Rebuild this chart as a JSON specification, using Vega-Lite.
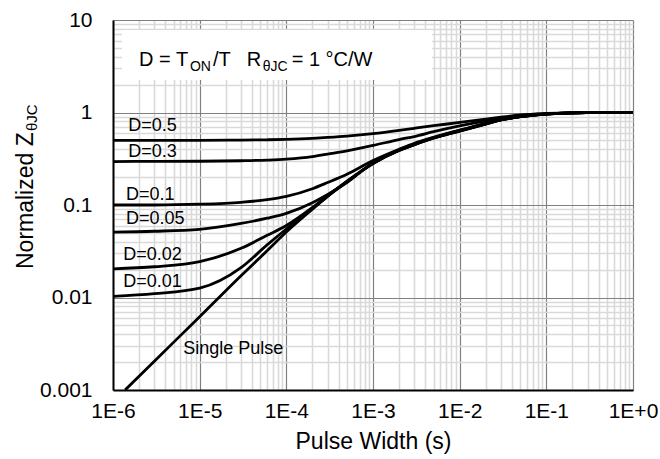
{
  "$schema": "https://vega.github.io/schema/vega-lite/v6.json",
  "width": 520,
  "height": 370,
  "autosize": {"type": "none"},
  "padding": {"left": 113, "top": 20, "right": 27, "bottom": 69},
  "background": "white",
  "config": {"view": {"stroke": null}, "font": "Liberation Sans"},
  "datasets": {
    "box": [{"x1": 1.27e-6, "x2": 4.8e-3, "y1": 2.245, "y2": 7.797}],
    "curves": [
      {"series": "D=0.5", "t": 1e-6, "z": 0.5}, {"series": "D=0.5", "t": 3e-6, "z": 0.5}, {"series": "D=0.5", "t": 1e-5, "z": 0.5}, {"series": "D=0.5", "t": 3e-5, "z": 0.503}, {"series": "D=0.5", "t": 6e-5, "z": 0.507}, {"series": "D=0.5", "t": 1e-4, "z": 0.512}, {"series": "D=0.5", "t": 2e-4, "z": 0.525}, {"series": "D=0.5", "t": 3e-4, "z": 0.537}, {"series": "D=0.5", "t": 5e-4, "z": 0.555}, {"series": "D=0.5", "t": 1e-3, "z": 0.59}, {"series": "D=0.5", "t": 2e-3, "z": 0.64}, {"series": "D=0.5", "t": 3e-3, "z": 0.675}, {"series": "D=0.5", "t": 5e-3, "z": 0.72}, {"series": "D=0.5", "t": 1e-2, "z": 0.78}, {"series": "D=0.5", "t": 2e-2, "z": 0.85}, {"series": "D=0.5", "t": 3e-2, "z": 0.89}, {"series": "D=0.5", "t": 5e-2, "z": 0.94}, {"series": "D=0.5", "t": 1e-1, "z": 0.975}, {"series": "D=0.5", "t": 2e-1, "z": 0.993}, {"series": "D=0.5", "t": 3e-1, "z": 0.997}, {"series": "D=0.5", "t": 1, "z": 1.0},
      {"series": "D=0.3", "t": 1e-6, "z": 0.295}, {"series": "D=0.3", "t": 3e-6, "z": 0.296}, {"series": "D=0.3", "t": 1e-5, "z": 0.297}, {"series": "D=0.3", "t": 3e-5, "z": 0.301}, {"series": "D=0.3", "t": 6e-5, "z": 0.306}, {"series": "D=0.3", "t": 1e-4, "z": 0.313}, {"series": "D=0.3", "t": 2e-4, "z": 0.333}, {"series": "D=0.3", "t": 3e-4, "z": 0.355}, {"series": "D=0.3", "t": 5e-4, "z": 0.385}, {"series": "D=0.3", "t": 1e-3, "z": 0.44}, {"series": "D=0.3", "t": 2e-3, "z": 0.51}, {"series": "D=0.3", "t": 3e-3, "z": 0.55}, {"series": "D=0.3", "t": 5e-3, "z": 0.62}, {"series": "D=0.3", "t": 1e-2, "z": 0.715}, {"series": "D=0.3", "t": 2e-2, "z": 0.81}, {"series": "D=0.3", "t": 3e-2, "z": 0.865}, {"series": "D=0.3", "t": 5e-2, "z": 0.925}, {"series": "D=0.3", "t": 1e-1, "z": 0.97}, {"series": "D=0.3", "t": 2e-1, "z": 0.99}, {"series": "D=0.3", "t": 3e-1, "z": 0.996}, {"series": "D=0.3", "t": 1, "z": 1.0},
      {"series": "D=0.1", "t": 1e-6, "z": 0.1}, {"series": "D=0.1", "t": 3e-6, "z": 0.1}, {"series": "D=0.1", "t": 1e-5, "z": 0.102}, {"series": "D=0.1", "t": 3e-5, "z": 0.107}, {"series": "D=0.1", "t": 6e-5, "z": 0.114}, {"series": "D=0.1", "t": 1e-4, "z": 0.124}, {"series": "D=0.1", "t": 2e-4, "z": 0.15}, {"series": "D=0.1", "t": 3e-4, "z": 0.175}, {"series": "D=0.1", "t": 5e-4, "z": 0.215}, {"series": "D=0.1", "t": 1e-3, "z": 0.302}, {"series": "D=0.1", "t": 2e-3, "z": 0.4}, {"series": "D=0.1", "t": 3e-3, "z": 0.465}, {"series": "D=0.1", "t": 5e-3, "z": 0.54}, {"series": "D=0.1", "t": 1e-2, "z": 0.645}, {"series": "D=0.1", "t": 2e-2, "z": 0.765}, {"series": "D=0.1", "t": 3e-2, "z": 0.84}, {"series": "D=0.1", "t": 5e-2, "z": 0.905}, {"series": "D=0.1", "t": 1e-1, "z": 0.964}, {"series": "D=0.1", "t": 2e-1, "z": 0.99}, {"series": "D=0.1", "t": 3e-1, "z": 0.996}, {"series": "D=0.1", "t": 1, "z": 1.0},
      {"series": "D=0.05", "t": 1e-6, "z": 0.051}, {"series": "D=0.05", "t": 3e-6, "z": 0.052}, {"series": "D=0.05", "t": 1e-5, "z": 0.0546}, {"series": "D=0.05", "t": 3e-5, "z": 0.0633}, {"series": "D=0.05", "t": 6e-5, "z": 0.072}, {"series": "D=0.05", "t": 1e-4, "z": 0.0813}, {"series": "D=0.05", "t": 2e-4, "z": 0.106}, {"series": "D=0.05", "t": 3e-4, "z": 0.13}, {"series": "D=0.05", "t": 5e-4, "z": 0.175}, {"series": "D=0.05", "t": 1e-3, "z": 0.287}, {"series": "D=0.05", "t": 2e-3, "z": 0.39}, {"series": "D=0.05", "t": 3e-3, "z": 0.455}, {"series": "D=0.05", "t": 5e-3, "z": 0.535}, {"series": "D=0.05", "t": 1e-2, "z": 0.64}, {"series": "D=0.05", "t": 2e-2, "z": 0.76}, {"series": "D=0.05", "t": 3e-2, "z": 0.835}, {"series": "D=0.05", "t": 5e-2, "z": 0.902}, {"series": "D=0.05", "t": 1e-1, "z": 0.962}, {"series": "D=0.05", "t": 2e-1, "z": 0.99}, {"series": "D=0.05", "t": 3e-1, "z": 0.996}, {"series": "D=0.05", "t": 1, "z": 1.0},
      {"series": "D=0.02", "t": 1e-6, "z": 0.0204}, {"series": "D=0.02", "t": 3e-6, "z": 0.0215}, {"series": "D=0.02", "t": 1e-5, "z": 0.0244}, {"series": "D=0.02", "t": 3e-5, "z": 0.034}, {"series": "D=0.02", "t": 6e-5, "z": 0.047}, {"series": "D=0.02", "t": 1e-4, "z": 0.06}, {"series": "D=0.02", "t": 2e-4, "z": 0.094}, {"series": "D=0.02", "t": 3e-4, "z": 0.126}, {"series": "D=0.02", "t": 5e-4, "z": 0.18}, {"series": "D=0.02", "t": 1e-3, "z": 0.282}, {"series": "D=0.02", "t": 2e-3, "z": 0.39}, {"series": "D=0.02", "t": 3e-3, "z": 0.45}, {"series": "D=0.02", "t": 5e-3, "z": 0.53}, {"series": "D=0.02", "t": 1e-2, "z": 0.632}, {"series": "D=0.02", "t": 2e-2, "z": 0.752}, {"series": "D=0.02", "t": 3e-2, "z": 0.83}, {"series": "D=0.02", "t": 5e-2, "z": 0.9}, {"series": "D=0.02", "t": 1e-1, "z": 0.96}, {"series": "D=0.02", "t": 2e-1, "z": 0.99}, {"series": "D=0.02", "t": 3e-1, "z": 0.995}, {"series": "D=0.02", "t": 1, "z": 1.0},
      {"series": "D=0.01", "t": 1e-6, "z": 0.0103}, {"series": "D=0.01", "t": 3e-6, "z": 0.011}, {"series": "D=0.01", "t": 1e-5, "z": 0.0126}, {"series": "D=0.01", "t": 3e-5, "z": 0.021}, {"series": "D=0.01", "t": 6e-5, "z": 0.037}, {"series": "D=0.01", "t": 1e-4, "z": 0.055}, {"series": "D=0.01", "t": 2e-4, "z": 0.092}, {"series": "D=0.01", "t": 3e-4, "z": 0.125}, {"series": "D=0.01", "t": 5e-4, "z": 0.18}, {"series": "D=0.01", "t": 1e-3, "z": 0.281}, {"series": "D=0.01", "t": 2e-3, "z": 0.39}, {"series": "D=0.01", "t": 3e-3, "z": 0.45}, {"series": "D=0.01", "t": 5e-3, "z": 0.53}, {"series": "D=0.01", "t": 1e-2, "z": 0.631}, {"series": "D=0.01", "t": 2e-2, "z": 0.751}, {"series": "D=0.01", "t": 3e-2, "z": 0.83}, {"series": "D=0.01", "t": 5e-2, "z": 0.9}, {"series": "D=0.01", "t": 1e-1, "z": 0.96}, {"series": "D=0.01", "t": 2e-1, "z": 0.99}, {"series": "D=0.01", "t": 3e-1, "z": 0.995}, {"series": "D=0.01", "t": 1, "z": 1.0},
      {"series": "Single", "t": 1.38e-6, "z": 0.001}, {"series": "Single", "t": 3e-6, "z": 0.00205}, {"series": "Single", "t": 1e-5, "z": 0.0062}, {"series": "Single", "t": 3e-5, "z": 0.0172}, {"series": "Single", "t": 6e-5, "z": 0.032}, {"series": "Single", "t": 1e-4, "z": 0.051}, {"series": "Single", "t": 2e-4, "z": 0.09}, {"series": "Single", "t": 3e-4, "z": 0.124}, {"series": "Single", "t": 5e-4, "z": 0.178}, {"series": "Single", "t": 1e-3, "z": 0.28}, {"series": "Single", "t": 2e-3, "z": 0.388}, {"series": "Single", "t": 3e-3, "z": 0.448}, {"series": "Single", "t": 5e-3, "z": 0.528}, {"series": "Single", "t": 1e-2, "z": 0.63}, {"series": "Single", "t": 2e-2, "z": 0.75}, {"series": "Single", "t": 3e-2, "z": 0.83}, {"series": "Single", "t": 5e-2, "z": 0.9}, {"series": "Single", "t": 1e-1, "z": 0.96}, {"series": "Single", "t": 2e-1, "z": 0.99}, {"series": "Single", "t": 3e-1, "z": 0.995}, {"series": "Single", "t": 1, "z": 1.0}
    ],
    "curveLabels": [
      {"label": "D=0.5", "lx": 1.501e-6, "ly": 0.6357},
      {"label": "D=0.3", "lx": 1.501e-6, "ly": 0.328},
      {"label": "D=0.1", "lx": 1.413e-6, "ly": 0.1132},
      {"label": "D=0.05", "lx": 1.413e-6, "ly": 0.0623},
      {"label": "D=0.02", "lx": 1.315e-6, "ly": 0.02543},
      {"label": "D=0.01", "lx": 1.315e-6, "ly": 0.01289},
      {"label": "Single Pulse", "lx": 6.476e-6, "ly": 0.002432}
    ],
    "noteMain": [
      {"txt": "D = T", "nx": 2.0e-6, "ny": 3.18},
      {"txt": "/T", "nx": 1.426e-5, "ny": 3.18},
      {"txt": "R", "nx": 3.49e-5, "ny": 3.18},
      {"txt": "= 1 °C/W", "nx": 1.153e-4, "ny": 3.18}
    ],
    "noteSub": [
      {"txt": "ON", "nx": 7.73e-6, "ny": 2.83},
      {"txt": "θJC", "nx": 5.34e-5, "ny": 2.83}
    ],
    "yTitleMain": [{"txt": "Normalized Z", "nx": 1.194e-7, "ny": 0.02033}],
    "yTitleSub": [{"txt": "θJC", "nx": 1.328e-7, "ny": 0.631}]
  },
  "layer": [
    {
      "data": {"name": "curves"},
      "mark": {"type": "line", "color": "black", "strokeWidth": 2.8, "interpolate": "monotone", "clip": true},
      "encoding": {
        "x": {
          "field": "t", "type": "quantitative",
          "scale": {"type": "log", "domain": [1e-6, 1], "nice": false},
          "axis": {
            "title": "Pulse Width (s)",
            "titleFontSize": 23, "titleFontWeight": "normal", "titleColor": "black", "titleFont": "Liberation Sans", "titlePadding": 9,
            "values": [1e-6, 2e-6, 3e-6, 4e-6, 5e-6, 6e-6, 7e-6, 8e-6, 9e-6, 1e-5, 2e-5, 3e-5, 4e-5, 5e-5, 6e-5, 7e-5, 8e-5, 9e-5, 1e-4, 2e-4, 3e-4, 4e-4, 5e-4, 6e-4, 7e-4, 8e-4, 9e-4, 1e-3, 2e-3, 3e-3, 4e-3, 5e-3, 6e-3, 7e-3, 8e-3, 9e-3, 1e-2, 2e-2, 3e-2, 4e-2, 5e-2, 6e-2, 7e-2, 8e-2, 9e-2, 1e-1, 2e-1, 3e-1, 4e-1, 5e-1, 6e-1, 7e-1, 8e-1, 9e-1, 1],
            "labelExpr": "abs(log(datum.value)/LN10 - round(log(datum.value)/LN10)) < 0.01 ? ('1E' + (round(log(datum.value)/LN10) < 0 ? '' : '+') + round(log(datum.value)/LN10)) : ''",
            "labelFontSize": 21, "labelColor": "black", "labelFont": "Liberation Sans", "labelPadding": 10, "labelFlush": false, "labelOverlap": false,
            "ticks": false, "domainColor": "black", "domainWidth": 2,
            "grid": true,
            "gridColor": {"condition": {"test": "abs(log(datum.value)/LN10 - round(log(datum.value)/LN10)) < 0.01", "value": "#808080"}, "value": "#d9d9d9"},
            "gridWidth": {"condition": {"test": "abs(log(datum.value)/LN10 - round(log(datum.value)/LN10)) < 0.01", "value": 1.2}, "value": 1.6}
          }
        },
        "y": {
          "field": "z", "type": "quantitative",
          "scale": {"type": "log", "domain": [0.001, 10], "nice": false},
          "axis": {
            "title": null,
            "values": [0.001, 0.002, 0.003, 0.004, 0.005, 0.006, 0.007, 0.008, 0.009, 0.01, 0.02, 0.03, 0.04, 0.05, 0.06, 0.07, 0.08, 0.09, 0.1, 0.2, 0.3, 0.4, 0.5, 0.6, 0.7, 0.8, 0.9, 1, 2, 3, 4, 5, 6, 7, 8, 9, 10],
            "labelExpr": "abs(log(datum.value)/LN10 - round(log(datum.value)/LN10)) < 0.01 ? format(datum.value, '~g') : ''",
            "labelFontSize": 21, "labelColor": "black", "labelFont": "Liberation Sans", "labelPadding": 21, "labelOverlap": false, "labelFlush": false,
            "ticks": false, "domainColor": "black", "domainWidth": 2,
            "grid": true,
            "gridColor": {"condition": {"test": "abs(log(datum.value)/LN10 - round(log(datum.value)/LN10)) < 0.01", "value": "#808080"}, "value": "#d9d9d9"},
            "gridWidth": {"condition": {"test": "abs(log(datum.value)/LN10 - round(log(datum.value)/LN10)) < 0.01", "value": 1.2}, "value": 1.6}
          }
        },
        "detail": {"field": "series", "type": "nominal"}
      }
    },
    {
      "data": {"name": "box"},
      "mark": {"type": "rect", "fill": "white", "stroke": null},
      "encoding": {
        "x": {"field": "x1", "type": "quantitative"},
        "x2": {"field": "x2"},
        "y": {"field": "y1", "type": "quantitative"},
        "y2": {"field": "y2"}
      }
    },
    {
      "data": {"name": "curveLabels"},
      "mark": {"type": "text", "align": "left", "baseline": "alphabetic", "fontSize": 18, "color": "black", "font": "Liberation Sans"},
      "encoding": {
        "x": {"field": "lx", "type": "quantitative"},
        "y": {"field": "ly", "type": "quantitative"},
        "text": {"field": "label"}
      }
    },
    {
      "data": {"name": "noteMain"},
      "mark": {"type": "text", "align": "left", "baseline": "alphabetic", "fontSize": 20, "color": "black", "font": "Liberation Sans"},
      "encoding": {
        "x": {"field": "nx", "type": "quantitative"},
        "y": {"field": "ny", "type": "quantitative"},
        "text": {"field": "txt"}
      }
    },
    {
      "data": {"name": "noteSub"},
      "mark": {"type": "text", "align": "left", "baseline": "alphabetic", "fontSize": 14, "color": "black", "font": "Liberation Sans"},
      "encoding": {
        "x": {"field": "nx", "type": "quantitative"},
        "y": {"field": "ny", "type": "quantitative"},
        "text": {"field": "txt"}
      }
    },
    {
      "data": {"name": "yTitleMain"},
      "mark": {"type": "text", "align": "left", "baseline": "alphabetic", "angle": 270, "fontSize": 23, "color": "black", "font": "Liberation Sans"},
      "encoding": {
        "x": {"field": "nx", "type": "quantitative"},
        "y": {"field": "ny", "type": "quantitative"},
        "text": {"field": "txt"}
      }
    },
    {
      "data": {"name": "yTitleSub"},
      "mark": {"type": "text", "align": "left", "baseline": "alphabetic", "angle": 270, "fontSize": 15, "color": "black", "font": "Liberation Sans"},
      "encoding": {
        "x": {"field": "nx", "type": "quantitative"},
        "y": {"field": "ny", "type": "quantitative"},
        "text": {"field": "txt"}
      }
    }
  ]
}
